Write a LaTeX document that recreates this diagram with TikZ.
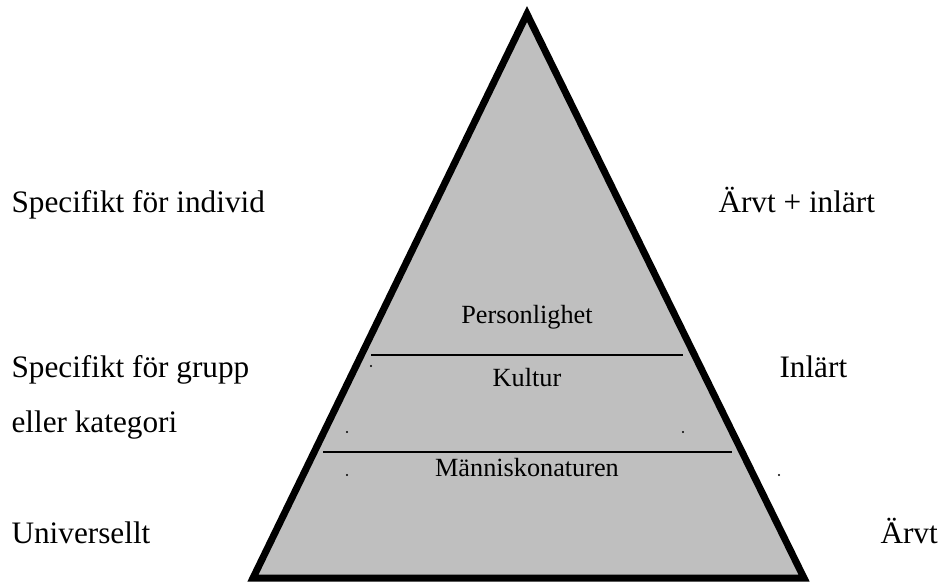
\documentclass[tikz,border=0pt]{standalone}
\usepackage{fontspec}
\setmainfont{Liberation Serif}
\begin{document}
\begin{tikzpicture}[x=0.4pt,y=-0.4pt,font=\fontsize{12.5}{15}\selectfont]
\useasboundingbox (0,0) rectangle (942,582);
\tikzset{side/.style={anchor=base west,inner sep=0pt},
         layer/.style={anchor=base,font=\fontsize{10.5}{12}\selectfont,inner sep=0pt}}

% pyramid
\coordinate (top) at (527,14);
\coordinate (bl) at (253,578);
\coordinate (br) at (804,578);
\filldraw[fill=black!25,line width=2.8pt,line join=miter] (top) -- (br) -- (bl) -- cycle;

% dividing lines
\coordinate (a1) at (371,355);
\coordinate (a2) at (683,355);
\coordinate (b1) at (323,452);
\coordinate (b2) at (732,452);
\draw[line width=0.8pt] (a1) -- (a2);
\draw[line width=0.8pt] (b1) -- (b2);

\foreach \x/\y in {371/366,347/432,683/432,347/475,779/475}
{
  \fill (\x,\y) circle (0.45pt);
}

\node[layer] (pers) at (527,323) {Personlighet};
\node[layer] (kult) at (527,386) {Kultur};
\node[layer] (mann) at (527,476) {Människonaturen};

\node[side] (indiv) at (11,212) {Specifikt för individ};
\node[side] (grupp) at (11,377) {Specifikt för grupp};
\node[side] (kat) at (11,432) {eller kategori};
\node[side] (univ) at (11,543) {Universellt};

\node[side] (arvinl) at (718,212) {Ärvt + inlärt};
\node[side] (inl) at (779,377) {Inlärt};
\node[side] (arvt) at (880,543) {Ärvt};
\end{tikzpicture}
\end{document}
